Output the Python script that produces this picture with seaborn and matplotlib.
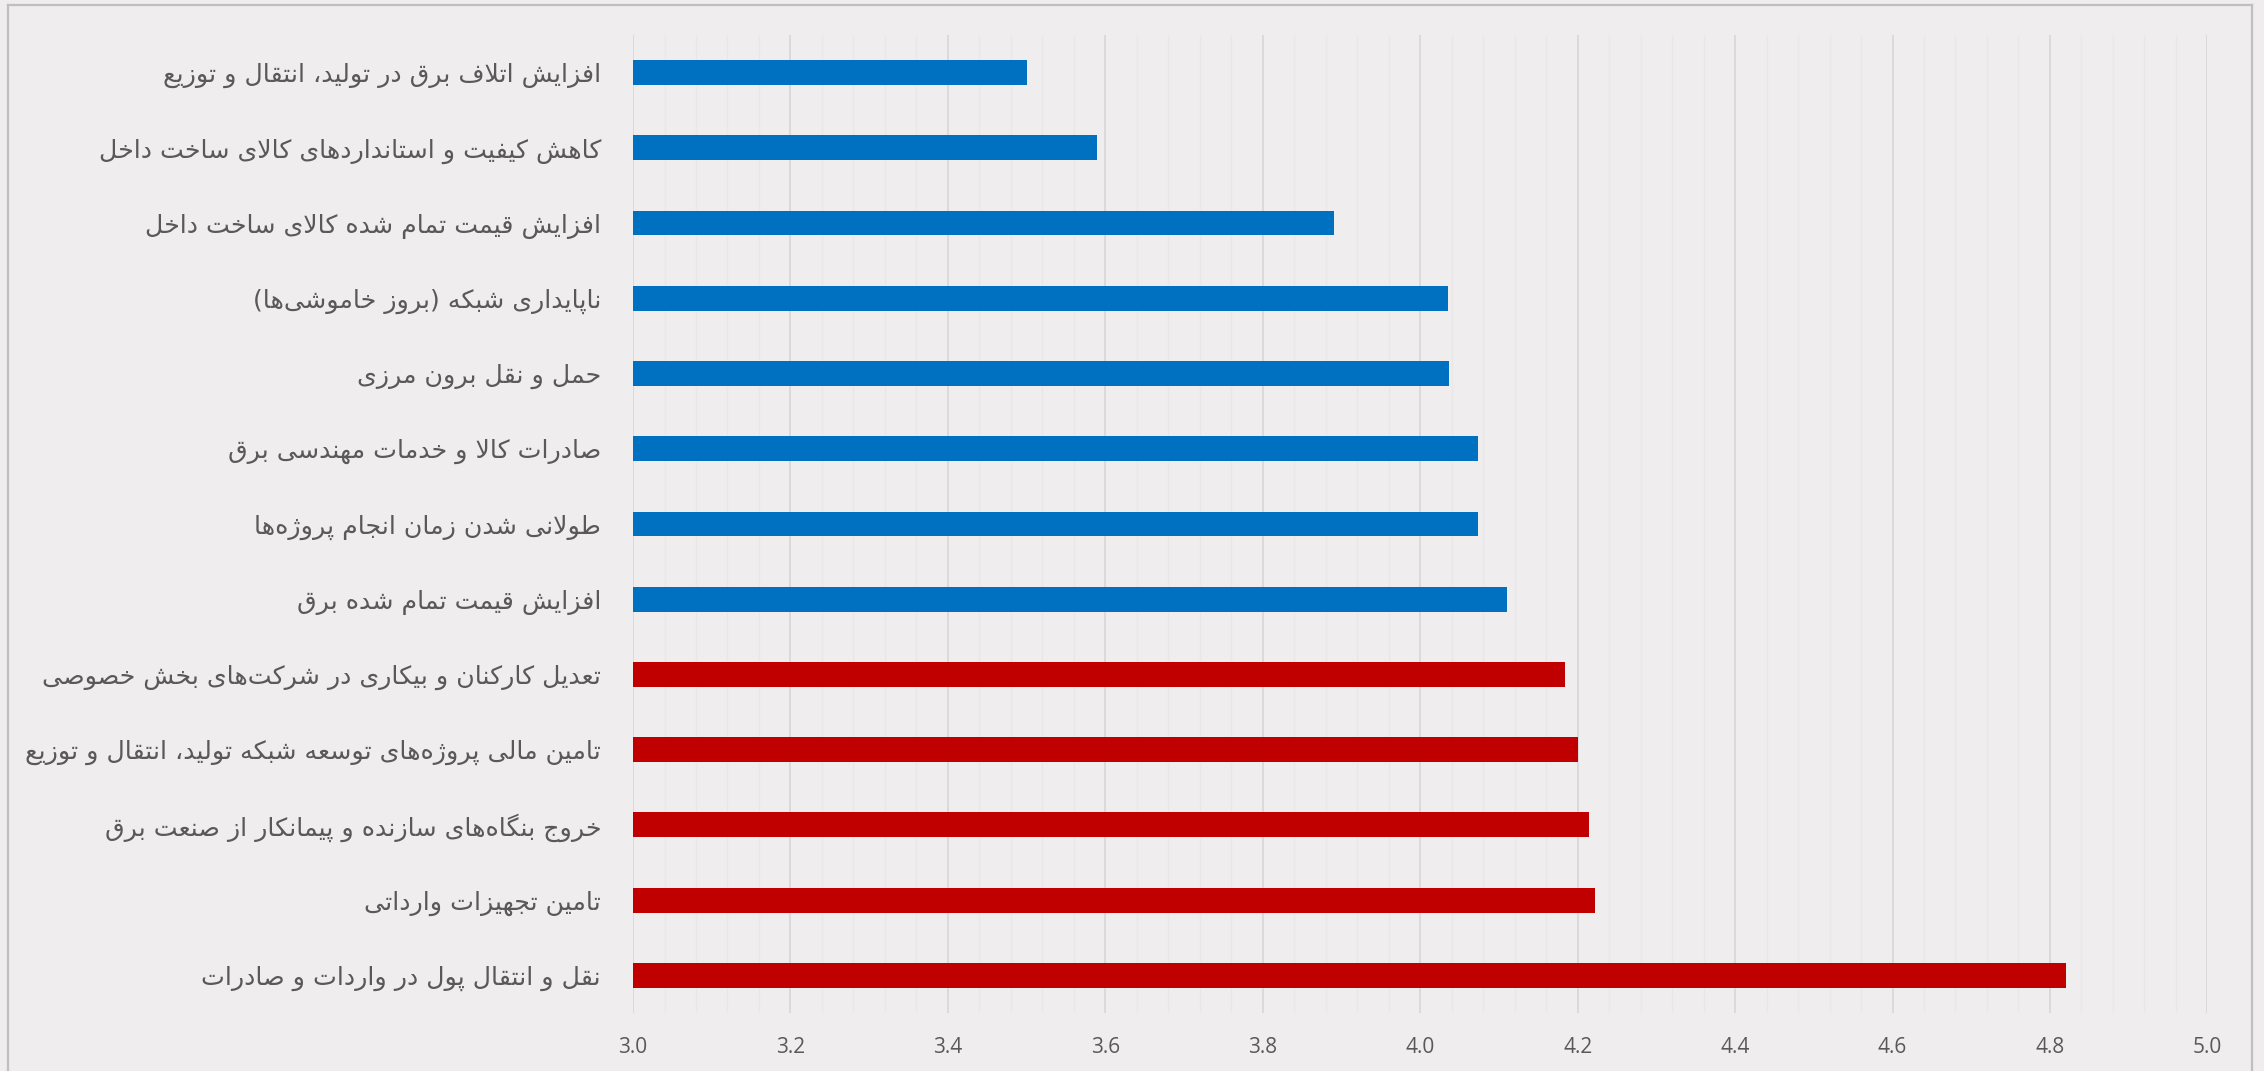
import pandas as pd
import matplotlib.pyplot as plt
import seaborn as sns
from matplotlib.ticker import MultipleLocator
from matplotlib.lines import Line2D

# data, top to bottom
labels = [
    "افزایش اتلاف برق در تولید، انتقال و توزیع",
    "کاهش کیفیت و استانداردهای کالای ساخت داخل",
    "افزایش قیمت تمام شده کالای ساخت داخل",
    "ناپایداری شبکه (بروز خاموشی\u200cها)",
    "حمل و نقل برون مرزی",
    "صادرات کالا و خدمات مهندسی برق",
    "طولانی شدن زمان انجام پروژه\u200cها",
    "افزایش قیمت تمام شده برق",
    "تعدیل کارکنان و بیکاری در شرکت\u200cهای بخش خصوصی",
    "تامین مالی پروژه\u200cهای توسعه شبکه تولید، انتقال و توزیع",
    "خروج بنگاه\u200cهای سازنده و پیمانکار از صنعت برق",
    "تامین تجهیزات وارداتی",
    "نقل و انتقال پول در واردات و صادرات",
]
values = [3.50, 3.59, 3.89, 4.035, 4.037, 4.073, 4.073, 4.11, 4.184, 4.20, 4.215, 4.222, 4.82]
groups = ["blue"] * 8 + ["red"] * 5
group_colors = {"blue": "#0070C0", "red": "#C00000"}
xticks = [3.0, 3.2, 3.4, 3.6, 3.8, 4.0, 4.2, 4.4, 4.6, 4.8, 5.0]

# matplotlib has no arabic shaping, so map letters to presentation forms
# (isolated, final, initial, medial)
FORMS = {
    'ا': ('\uFE8D', '\uFE8E', None, None), 'آ': ('\uFE81', '\uFE82', None, None),
    'ب': ('\uFE8F', '\uFE90', '\uFE91', '\uFE92'), 'پ': ('\uFB56', '\uFB57', '\uFB58', '\uFB59'),
    'ت': ('\uFE95', '\uFE96', '\uFE97', '\uFE98'), 'ث': ('\uFE99', '\uFE9A', '\uFE9B', '\uFE9C'),
    'ج': ('\uFE9D', '\uFE9E', '\uFE9F', '\uFEA0'), 'چ': ('\uFB7A', '\uFB7B', '\uFB7C', '\uFB7D'),
    'ح': ('\uFEA1', '\uFEA2', '\uFEA3', '\uFEA4'), 'خ': ('\uFEA5', '\uFEA6', '\uFEA7', '\uFEA8'),
    'د': ('\uFEA9', '\uFEAA', None, None), 'ذ': ('\uFEAB', '\uFEAC', None, None),
    'ر': ('\uFEAD', '\uFEAE', None, None), 'ز': ('\uFEAF', '\uFEB0', None, None),
    'ژ': ('\uFB8A', '\uFB8B', None, None),
    'س': ('\uFEB1', '\uFEB2', '\uFEB3', '\uFEB4'), 'ش': ('\uFEB5', '\uFEB6', '\uFEB7', '\uFEB8'),
    'ص': ('\uFEB9', '\uFEBA', '\uFEBB', '\uFEBC'), 'ض': ('\uFEBD', '\uFEBE', '\uFEBF', '\uFEC0'),
    'ط': ('\uFEC1', '\uFEC2', '\uFEC3', '\uFEC4'), 'ظ': ('\uFEC5', '\uFEC6', '\uFEC7', '\uFEC8'),
    'ع': ('\uFEC9', '\uFECA', '\uFECB', '\uFECC'), 'غ': ('\uFECD', '\uFECE', '\uFECF', '\uFED0'),
    'ف': ('\uFED1', '\uFED2', '\uFED3', '\uFED4'), 'ق': ('\uFED5', '\uFED6', '\uFED7', '\uFED8'),
    'ک': ('\uFB8E', '\uFB8F', '\uFB90', '\uFB91'), 'گ': ('\uFB92', '\uFB93', '\uFB94', '\uFB95'),
    'ل': ('\uFEDD', '\uFEDE', '\uFEDF', '\uFEE0'), 'م': ('\uFEE1', '\uFEE2', '\uFEE3', '\uFEE4'),
    'ن': ('\uFEE5', '\uFEE6', '\uFEE7', '\uFEE8'), 'و': ('\uFEED', '\uFEEE', None, None),
    'ه': ('\uFEE9', '\uFEEA', '\uFEEB', '\uFEEC'), 'ی': ('\uFBFC', '\uFBFD', '\uFBFE', '\uFBFF'),
}
LAM_ALEF = {'ا': ('\uFEFB', '\uFEFC'), 'آ': ('\uFEF5', '\uFEF6')}


def joins_next(c):
    return c in FORMS and FORMS[c][2] is not None


def shape(text):
    out = []
    i = 0
    n = len(text)
    while i < n:
        c = text[i]
        if c not in FORMS:
            if c != '\u200c':
                out.append(c)
            i += 1
            continue
        prev = text[i - 1] if i > 0 else ''
        nxt = text[i + 1] if i + 1 < n else ''
        jp = joins_next(prev)
        if c == 'ل' and nxt in LAM_ALEF:
            out.append(LAM_ALEF[nxt][1] if jp else LAM_ALEF[nxt][0])
            i += 2
            continue
        jn = joins_next(c) and nxt in FORMS
        iso, fin, ini, med = FORMS[c]
        if jp and jn:
            out.append(med)
        elif jp:
            out.append(fin)
        elif jn:
            out.append(ini)
        else:
            out.append(iso)
        i += 1
    s = ''.join(out)[::-1]
    return s.translate(str.maketrans('()', ')('))


df = pd.DataFrame({
    "label": [shape(t) for t in labels],
    "value": values,
    "group": groups,
})
palette = {shape(t): group_colors[g] for t, g in zip(labels, groups)}

bg = "#EFEDEE"
fig = plt.figure(figsize=(22.64, 10.71), dpi=100, facecolor=bg)
ax = fig.add_axes([0.2796, 0.0542, 0.9750 - 0.2796, 0.9673 - 0.0542])
ax.set_facecolor(bg)

sns.barplot(data=df, x="value", y="label", hue="label", palette=palette,
            legend=False, width=0.33, orient="h", ax=ax, saturation=1,
            linewidth=0, zorder=3)

ax.set_xlim(3.0, 5.0)
ax.set_xticks(xticks)
ax.set_xticklabels([f"{t:.1f}" for t in xticks])
ax.xaxis.set_minor_locator(MultipleLocator(0.04))
ax.grid(axis="x", which="major", color="#D9D9D9", linewidth=1.3, zorder=0)
ax.grid(axis="x", which="minor", color="#E9E7E8", linewidth=1.0, zorder=0)
ax.set_axisbelow(True)
ax.set_xlabel("")
ax.set_ylabel("")
for s in ax.spines.values():
    s.set_visible(False)
ax.tick_params(axis="both", which="both", length=0)
ax.tick_params(axis="x", pad=17, labelcolor="#595959")
ax.tick_params(axis="y", pad=23, labelcolor="#595959")
for t in ax.get_xticklabels():
    t.set_fontfamily(["Open Sans", "DejaVu Sans"])
    t.set_fontsize(15)
for t in ax.get_yticklabels():
    t.set_fontfamily(["DejaVu Sans"])
    t.set_fontsize(18.2)

# chart border
bc = "#BFBFBF"
fig.add_artist(Line2D([8 / 2264, 8 / 2264], [0, 1 - 5 / 1071], color=bc, lw=1.6))
fig.add_artist(Line2D([8 / 2264, 2252 / 2264], [1 - 5 / 1071, 1 - 5 / 1071], color=bc, lw=1.6))
fig.add_artist(Line2D([2252 / 2264, 2252 / 2264], [0, 1 - 5 / 1071], color=bc, lw=1.6))

fig.savefig("out.png", dpi=100, facecolor=bg)
